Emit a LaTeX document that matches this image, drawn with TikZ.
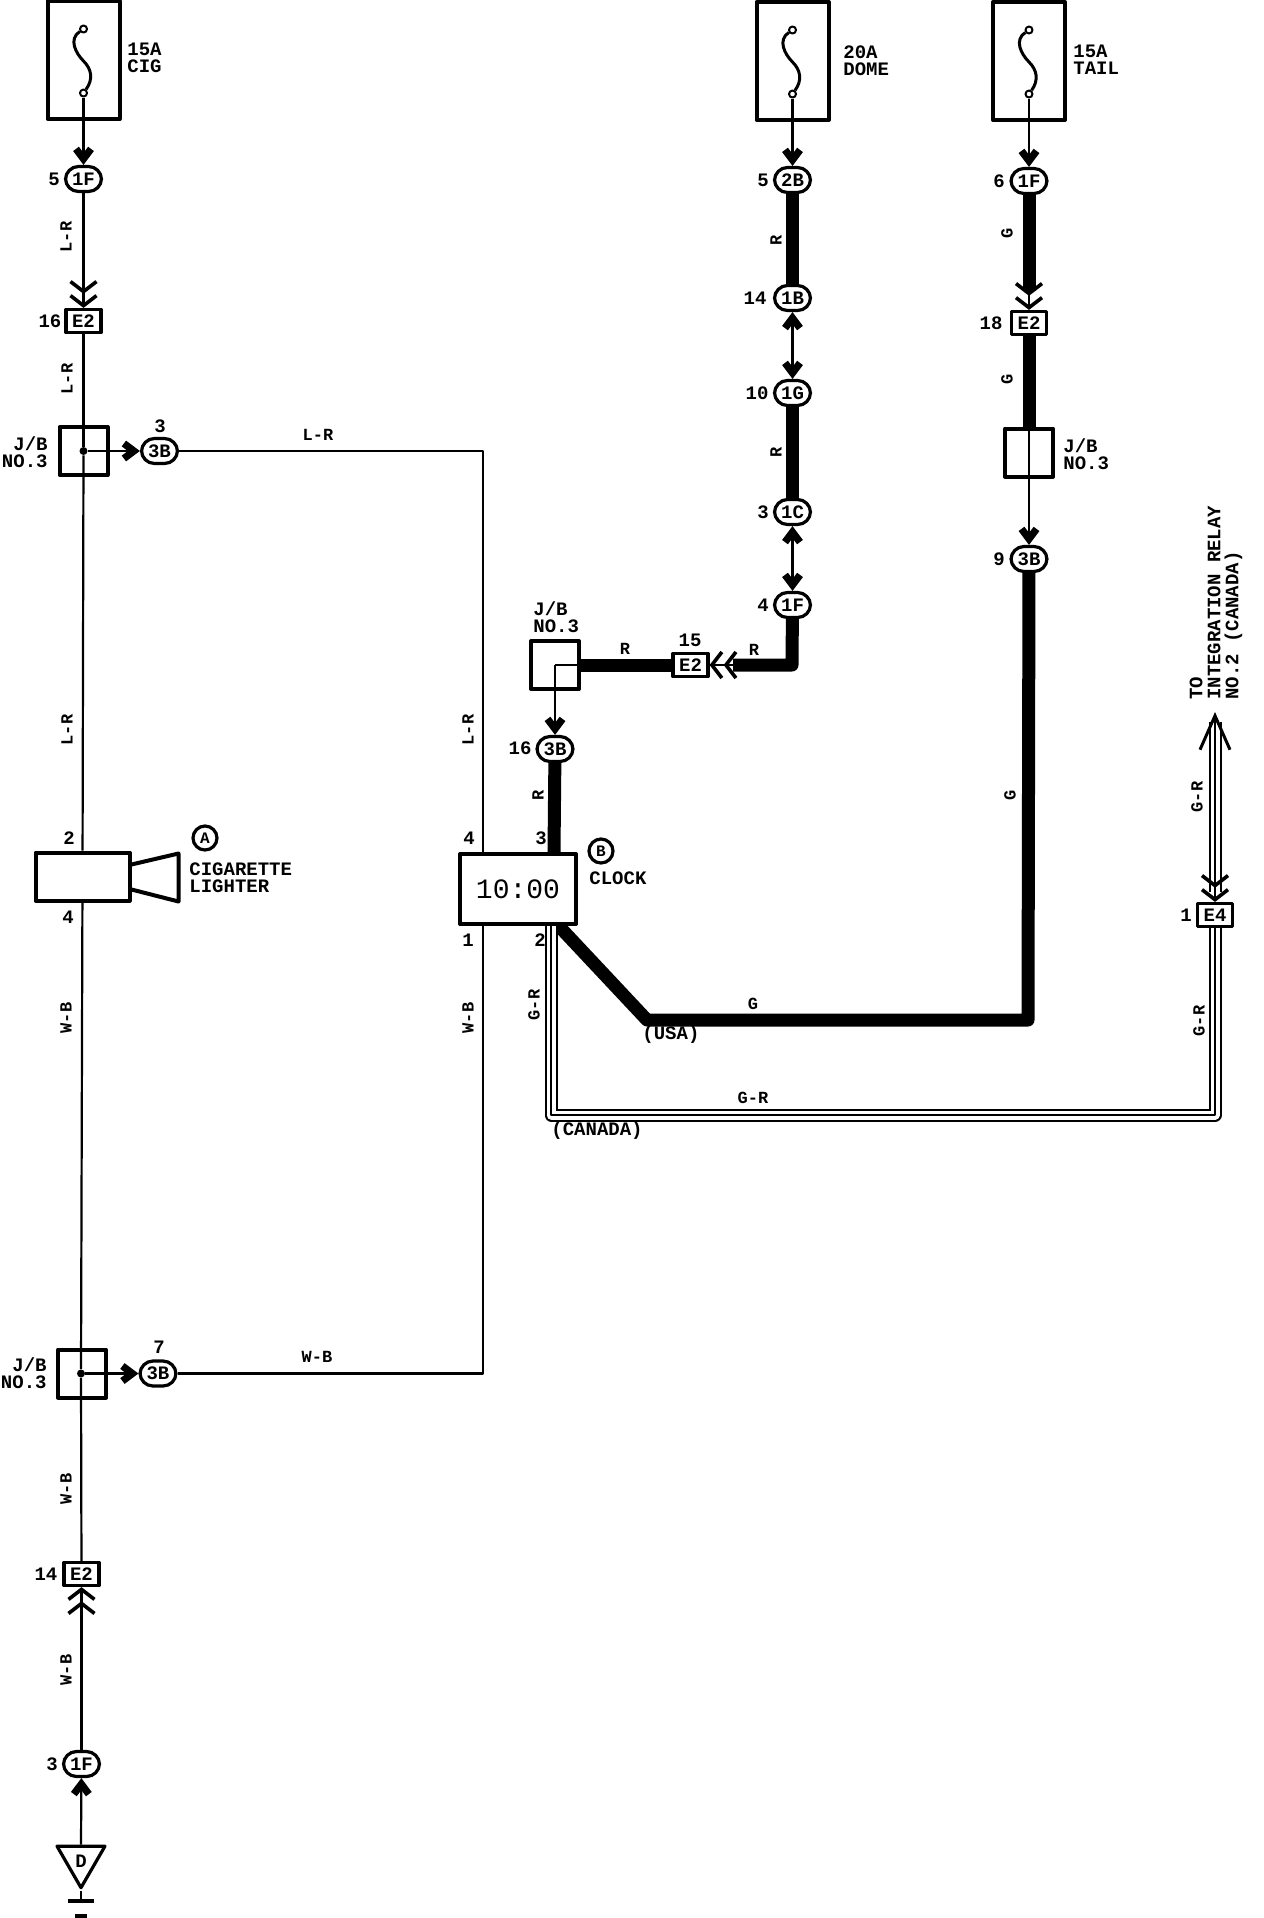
\documentclass[tikz,border=0pt]{standalone}
\usepackage{fontspec}
\setmainfont{Liberation Mono}
\usetikzlibrary{arrows.meta,calc,positioning,shapes.geometric}

\tikzset{
	fatbarb/.tip={Straight Barb[length=5pt, width=7.5pt, line width=3.6pt]},
	chevbarb/.tip={Straight Barb[length=5pt, width=13pt, line width=1.8pt]},
	wire/.style={draw, line width=1.1pt},
	heavywire/.style={draw, line width=6.5pt},
	canadawire/.style={draw, line width=6.5pt,
		postaction={draw=white, line width=4.5pt},
		postaction={draw=black, line width=1.2pt}},
	solidtip/.style={-fatbarb},
	bothtips/.style={fatbarb-fatbarb},
	chevrons/.style={-{chevbarb[sep=0pt] chevbarb}},
	pinfont/.style={font=\bfseries\fontsize{9.5}{8.5}\selectfont},
	pill/.style={draw, fill=white, rectangle, rounded corners=6.5pt, line width=1.6pt, minimum width=18pt, minimum height=12.5pt, inner sep=0pt, pinfont},
	plug/.style={draw, fill=white, rectangle, line width=1.6pt, minimum width=17.5pt, minimum height=11.5pt, inner sep=0pt, pinfont},
	fusebox/.style={draw, rectangle, line width=2pt, minimum width=36pt, minimum height=59pt},
	jbox/.style={draw, rectangle, line width=2pt, minimum width=24pt, minimum height=24pt},
	terminal/.style={draw, fill=white, circle, line width=1pt, minimum size=3.5pt, inner sep=0pt},
	splice/.style={fill, circle, minimum size=4pt, inner sep=0pt},
	pinmark/.style={pinfont},
	caption/.style={pinfont, align=left, anchor=west, inner sep=0pt},
	rcaption/.style={pinfont, align=right, anchor=east, inner sep=0pt},
	wirelab/.style={font=\bfseries\fontsize{8.5}{8.5}\selectfont},
	uplab/.style={wirelab, rotate=90},
	letterdot/.style={draw, circle, line width=1.6pt, minimum size=12pt, inner sep=0pt, font=\bfseries\fontsize{8}{8}\selectfont},
}

\begin{document}
\begin{tikzpicture}[x=0.5pt, y=-0.5pt, on grid, line join=round]
	\path[use as bounding box, fill=white] (0,0) rectangle (1264,1918);

	% left column
	\node[fusebox] (cigFuse) at (83.5,60) {};
	\node[pill] (cigF) [below=59.5pt of cigFuse] {1F};
	\node[plug] (cigE) [below=71pt of cigF] {E2};
	\node[jbox] (topJ) [below=65pt of cigE] {};
	\node[splice] (topDot) at (topJ.center) {};
	\node[pill] (top3B) [right=38pt of topJ] {3B};
	\node[draw, rectangle, line width=2pt, minimum width=47pt, minimum height=24pt] (lighter) at (82.5,876.5) {};
	\node[jbox] (botJ) at (82,1373.5) {};
	\node[splice] (botDot) at (81,1373.5) {};
	\node[pill] (bot3B) [right=38.5pt of botDot] {3B};
	\node[plug] (botE) at (81.5,1574) {E2};
	\node[pill] (botF) [below=95pt of botE] {1F};
	\node[draw, regular polygon, regular polygon sides=3, shape border rotate=180, line width=1.6pt, minimum size=27.7pt, inner sep=0pt, pinfont] (gnd) at (81,1860) {};
	\node[pinfont] (gndD) at (81,1861) {D};
	\coordinate (gndBar) at (81,1901);

	% middle column
	\node[fusebox] (domeFuse) at (792.5,61) {};
	\node[pill] (dome2B) [below=59.5pt of domeFuse] {2B};
	\node[pill] (dome1B) [below=59pt of dome2B] {1B};
	\node[pill] (dome1G) [below=47.5pt of dome1B] {1G};
	\node[pill] (dome1C) [below=59.5pt of dome1G] {1C};
	\node[pill] (dome1F) [below=46.5pt of dome1C] {1F};
	\coordinate (domeBend) at (792,665);
	\coordinate (domeNeck) at (733,665);
	\node[plug] (domeE) at (690.5,665) {E2};
	\node[jbox] (clockJ) [left=67.75pt of domeE] {};
	\node[pill] (clock3B) [below=42pt of clockJ] {3B};

	% right column
	\node[fusebox] (tailFuse) at (1029,61) {};
	\node[pill] (tailF) [below=60pt of tailFuse] {1F};
	\node[plug] (tailE) [below=71pt of tailF] {E2};
	\node[jbox] (tailJ) [below=64.75pt of tailE] {};
	\node[pill] (tail3B) [below=53.25pt of tailJ] {3B};
	\coordinate (tailNeck) at (1029,291);
	\coordinate (tailBend) at (1028,1020);
	\coordinate (usaBend) at (647,1020);
	\coordinate (clockG) at (556,923);
	\coordinate (clockCan) at (551,926);
	\coordinate (canBend) at (551,1115);
	\coordinate (relayBend) at (1215,1115);
	\coordinate (relayTip) at (1215,712);
	\coordinate (relayNeck) at (1215,722);
	\coordinate (relayFoot) at (1215,892);
	\coordinate (clockThree) at (554,852);
	\coordinate (clockFour) at (483,852);
	\coordinate (clockOne) at (483,926);
	\node[plug] (relayE) at (1215,915) {E4};

	% fuses
	\foreach \f in {cigFuse,domeFuse,tailFuse} {
		\node[terminal] (\f A) at ($(\f.center)+(0,-31)$) {};
		\node[terminal] (\f B) at ($(\f.center)+(0,33)$) {};
		\coordinate (\f M) at ($(\f.center)+(0,1)$);
		\draw[line width=1.5pt] (\f A) .. controls +(-15,10) and +(-8,-8) .. (\f M) .. controls +(8,8) and +(10,-14) .. (\f B);
	}

	% wires
	\draw[heavywire, line cap=butt] (tail3B) -- (tailBend) -- (usaBend) -- (clockG);
	\node[draw, fill=white, rectangle, line width=2pt, minimum width=58pt, minimum height=35pt, font=\fontsize{14}{14}\selectfont] (clock) at (518,889) {10:00};

	\draw[canadawire] (clockCan) -- (canBend) -- (relayBend) -- (relayE.south);
	\draw[canadawire] (relayFoot) -- (relayNeck);
	\draw[line width=1.5pt, -{Straight Barb[length=17pt, width=15pt, line width=1.5pt]}] (relayNeck) -- (relayTip);
	\draw[wire, chevrons] (relayFoot) -- (relayE);

	\path[wire]
		(cigFuseB) edge[solidtip] (cigF)
		(cigF) edge[chevrons] (cigE)
		(cigE) edge (topDot)
		(topDot) edge[solidtip] (top3B)
		(topDot) edge (lighter)
		(lighter) edge (botDot)
		(botDot) edge[solidtip] (bot3B)
		(botDot) edge (botE)
		(botF) edge[chevrons] (botE)
		(gnd.north) edge[solidtip] (botF)
		(gnd.corner 1) edge (gndBar)
		(domeFuseB) edge[solidtip] (dome2B)
		(dome1B) edge[bothtips] (dome1G)
		(dome1C) edge[bothtips] (dome1F)
		(tailFuseB) edge[solidtip] (tailF)
		(tailJ.south) edge[solidtip] (tail3B)
		(tailJ.north) edge (tailJ.south)
		(clockJ.center) edge[solidtip] (clock3B)
		(clockJ.east) edge (clockJ.center)
		(tailNeck) edge[chevrons] (tailE)
		(domeNeck) edge[chevrons] (domeE);
	\draw[wire] (top3B) -- (top3B -| clockFour) -- (clockFour);
	\draw[wire] (bot3B) -- (bot3B -| clockOne) -- (clockOne);

	\path[heavywire, line cap=butt]
		(dome2B) edge (dome1B)
		(dome1G) edge (dome1C)
		(tailE) edge (tailJ)
		(domeE) edge (clockJ)
		(clock3B) edge (clockThree)
		(tailF) edge (tailNeck);
	\draw[heavywire] (dome1F) -- (domeBend) -- (domeNeck);

	% lighter horn
	\draw[line width=2pt] ([yshift=6pt]lighter.east) -- ++(47,-11) -- ++(0,48) -- ++(-47,-12);

	% ground
	\draw[line width=1.6pt] (68,1901) -- (94,1901);
	\draw[line width=1.6pt] (75,1916) -- (87,1916);

	% pin numbers
	\node[pinmark] (pinA) at (54,179) {5};
	\node[pinmark] (pinB) at (50,321) {16};
	\node[pinmark] (pinC) at (160,426) {3};
	\node[pinmark] (pinD) at (69,838) {2};
	\node[pinmark] (pinE) at (68,917) {4};
	\node[pinmark] (pinF) at (159,1347) {7};
	\node[pinmark] (pinG) at (46,1574) {14};
	\node[pinmark] (pinH) at (52,1764) {3};
	\node[pinmark] (pinI) at (763,180) {5};
	\node[pinmark] (pinJ) at (755,298) {14};
	\node[pinmark] (pinK) at (757,393) {10};
	\node[pinmark] (pinL) at (763,512) {3};
	\node[pinmark] (pinM) at (763,605) {4};
	\node[pinmark] (pinN) at (690,640) {15};
	\node[pinmark] (pinO) at (520,748) {16};
	\node[pinmark] (pinP) at (469,838) {4};
	\node[pinmark] (pinQ) at (541,838) {3};
	\node[pinmark] (pinR) at (468,940) {1};
	\node[pinmark] (pinS) at (540,940) {2};
	\node[pinmark] (pinT) at (999,181) {6};
	\node[pinmark] (pinU) at (991,323) {18};
	\node[pinmark] (pinV) at (999,559) {9};
	\node[pinmark] (pinW) at (1186,915) {1};

	% captions
	\node[caption] (capCig) at (127,58) {15A\\CIG};
	\node[caption] (capDome) at (843,61) {20A\\DOME};
	\node[caption] (capTail) at (1073,60) {15A\\TAIL};
	\node[rcaption] (capTopJ) at (48,452) {J/B\\NO.3};
	\node[rcaption] (capBotJ) at (47,1373) {J/B\\NO.3};
	\node[caption] (capClockJ) at (533,617) {J/B\\NO.3};
	\node[caption] (capTailJ) at (1063,454) {J/B\\NO.3};
	\node[caption] (capLighter) at (189,878) {CIGARETTE\\LIGHTER};
	\node[caption] (capClock) at (589,878) {CLOCK};
	\node[caption] (capUsa) at (642,1035) {(USA)};
	\node[caption] (capCan) at (551,1131) {(CANADA)};
	\node[caption, font=\bfseries\fontsize{9.5}{9}\selectfont, rotate=90] (capRelay) at (1216,700) {TO\\INTEGRATION RELAY\\NO.2 (CANADA)};
	\node[letterdot] (dotA) at (205,838) {A};
	\node[letterdot] (dotB) at (601,851) {B};

	% wire colours
	\node[uplab] (colA) at (66,237) {L-R};
	\node[uplab] (colB) at (67,379) {L-R};
	\node[uplab] (colC) at (67,730) {L-R};
	\node[uplab] (colD) at (66,1018) {W-B};
	\node[uplab] (colE) at (66,1489) {W-B};
	\node[uplab] (colF) at (66,1670) {W-B};
	\node[wirelab] (colG) at (318,435) {L-R};
	\node[wirelab] (colH) at (317,1357) {W-B};
	\node[uplab] (colI) at (468,730) {L-R};
	\node[uplab] (colJ) at (468,1018) {W-B};
	\node[uplab] (colK) at (776,240) {R};
	\node[uplab] (colL) at (776,452) {R};
	\node[wirelab] (colM) at (625,649) {R};
	\node[wirelab] (colN) at (754,650) {R};
	\node[uplab] (colO) at (538,795) {R};
	\node[uplab] (colP) at (1007,233) {G};
	\node[uplab] (colQ) at (1007,379) {G};
	\node[uplab] (colR) at (1010,795) {G};
	\node[wirelab] (colS) at (753,1004) {G};
	\node[uplab] (colT) at (534,1005) {G-R};
	\node[wirelab] (colU) at (753,1098) {G-R};
	\node[uplab] (colV) at (1199,1021) {G-R};
	\node[uplab] (colW) at (1197,797) {G-R};
\end{tikzpicture}
\end{document}
